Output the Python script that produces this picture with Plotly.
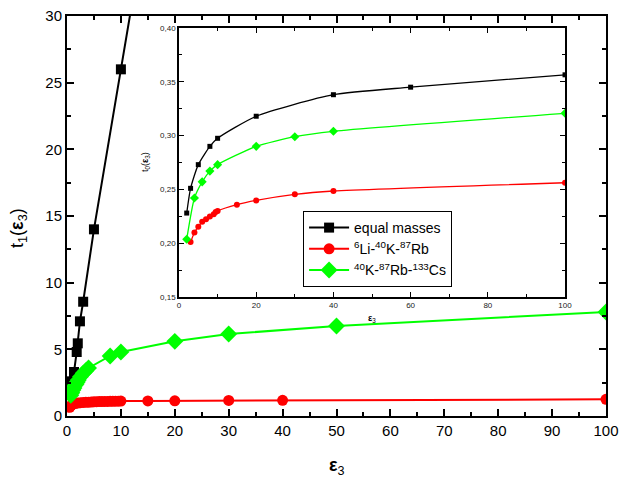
import plotly.graph_objects as go

# ---- main panel data: t1(eps3) ----
eq_x = [0.7, 1.3, 1.8, 2.0, 2.4, 3.0, 5, 10, 20]
eq_y = [2.6, 3.3, 4.8, 5.45, 7.1, 8.57, 14.0, 26.0, 50.0]

li_x = [0.5, 0.75, 1, 1.5, 2, 2.5, 3, 3.5, 4, 4.5, 5, 5.5, 6, 6.5, 7, 7.5, 8, 8.5, 9, 9.5, 10, 15, 20, 30, 40, 100]
li_y = [0.65, 0.78, 0.87, 0.93, 0.97, 1.0, 1.02, 1.03, 1.04, 1.05, 1.06, 1.07, 1.08, 1.08, 1.09, 1.09,
        1.10, 1.10, 1.11, 1.11, 1.12, 1.13, 1.14, 1.17, 1.18, 1.25]

k_x = [0.7, 0.9, 1.1, 1.3, 1.5, 1.7, 1.9, 2.1, 2.5, 3, 3.5, 4, 8, 10, 20, 30, 50, 100]
k_y = [1.55, 1.75, 1.95, 2.1, 2.3, 2.4, 2.55, 2.7, 2.95, 3.2, 3.4, 3.6, 4.5, 4.8, 5.6, 6.15, 6.75, 7.8]

# ---- inset data: t0(eps3) ----
eq0_x = [2, 3, 5, 8, 10, 20, 40, 60, 100]
eq0_y = [0.228, 0.251, 0.273, 0.290, 0.2975, 0.318, 0.338, 0.345, 0.3565]

li0_x = [3, 4, 5, 6, 7, 8, 9, 9.5, 10, 15, 20, 30, 40, 100]
li0_y = [0.201, 0.210, 0.2154, 0.220, 0.2222, 0.2247, 0.2269, 0.229, 0.230, 0.2358, 0.2398, 0.2454, 0.2485, 0.2562]

k0_x = [2, 4, 6, 8, 10, 20, 30, 40, 100]
k0_y = [0.2037, 0.242, 0.257, 0.267, 0.273, 0.290, 0.299, 0.304, 0.3207]

names = ["equal masses",
         "<sup>6</sup>Li-<sup>40</sup>K-<sup>87</sup>Rb",
         "<sup>40</sup>K-<sup>87</sup>Rb-<sup>133</sup>Cs"]
colors = ["#000000", "#ff0000", "#00ff00"]

FONT = "Liberation Sans, Arial, sans-serif"

fig = go.Figure()

# main traces (also used for legend entries)
fig.add_trace(go.Scatter(x=eq_x, y=eq_y, mode="lines+markers", name=names[0],
                         line=dict(color=colors[0], width=2),
                         marker=dict(symbol="square", size=10, color=colors[0]),
                         xaxis="x", yaxis="y"))
fig.add_trace(go.Scatter(x=li_x, y=li_y, mode="lines+markers", name=names[1],
                         line=dict(color=colors[1], width=2),
                         marker=dict(symbol="circle", size=11, color=colors[1]),
                         xaxis="x", yaxis="y"))
fig.add_trace(go.Scatter(x=k_x, y=k_y, mode="lines+markers", name=names[2],
                         line=dict(color=colors[2], width=2),
                         marker=dict(symbol="diamond", size=13, color=colors[2]),
                         xaxis="x", yaxis="y"))

# inset traces
fig.add_trace(go.Scatter(x=eq0_x, y=eq0_y, mode="lines+markers", showlegend=False,
                         line=dict(color=colors[0], width=1.3, shape="spline", smoothing=0.6),
                         marker=dict(symbol="square", size=5, color=colors[0]),
                         xaxis="x2", yaxis="y2"))
fig.add_trace(go.Scatter(x=li0_x, y=li0_y, mode="lines+markers", showlegend=False,
                         line=dict(color=colors[1], width=1.3, shape="spline", smoothing=0.6),
                         marker=dict(symbol="circle", size=6, color=colors[1]),
                         xaxis="x2", yaxis="y2"))
fig.add_trace(go.Scatter(x=k0_x, y=k0_y, mode="lines+markers", showlegend=False,
                         line=dict(color=colors[2], width=1.3, shape="spline", smoothing=0.6),
                         marker=dict(symbol="diamond", size=7, color=colors[2]),
                         xaxis="x2", yaxis="y2"))

main_axis = dict(showline=True, linewidth=2, linecolor="black", mirror="ticks",
                 ticks="inside", ticklen=7, tickwidth=1.5, tickcolor="black",
                 showgrid=False, zeroline=False, automargin=False, ticklabeloverflow="allow",
                 tickfont=dict(family=FONT, size=15, color="black"))

inset_axis = dict(showline=True, linewidth=1.5, linecolor="black", mirror="ticks",
                  ticks="inside", ticklen=5, tickwidth=1, tickcolor="black",
                  showgrid=False, zeroline=False, automargin=False, ticklabeloverflow="allow",
                  tickfont=dict(family=FONT, size=8, color="#222"))

fig.update_layout(
    width=621, height=477,
    margin=dict(l=67, r=15, t=16, b=61, autoexpand=False),
    paper_bgcolor="white", plot_bgcolor="white",
    separators=",.",
    font=dict(family=FONT, color="black"),
    xaxis=dict(**main_axis, range=[0, 100], dtick=10, tick0=0,
               minor=dict(dtick=5, ticks="inside", ticklen=4, tickwidth=1.5, tickcolor="black"),
               domain=[0, 1], anchor="y"),
    yaxis=dict(**main_axis, range=[0, 30], dtick=5, tick0=0,
               minor=dict(dtick=2.5, ticks="inside", ticklen=4, tickwidth=1.5, tickcolor="black"),
               domain=[0, 1], anchor="x"),
    xaxis2=dict(**inset_axis, range=[0, 100], dtick=20, tick0=0,
                minor=dict(dtick=10, ticks="inside", ticklen=3, tickwidth=1, tickcolor="black"),
                domain=[0.2078, 0.924], anchor="y2"),
    yaxis2=dict(**inset_axis, range=[0.15, 0.40], dtick=0.05, tick0=0.15, tickformat=".2f",
                minor=dict(dtick=0.025, ticks="inside", ticklen=3, tickwidth=1, tickcolor="black"),
                domain=[0.2975, 0.97], anchor="x2"),
    legend=dict(x=0.438, y=0.5125, xanchor="left", yanchor="top",
                bgcolor="white", bordercolor="black", borderwidth=1,
                font=dict(family=FONT, size=14, color="black"),
                tracegroupgap=0, itemwidth=40),
    annotations=[
        dict(text="t<sub>1</sub>(<b>ε</b><sub>3</sub>)", xref="paper", yref="paper",
             x=-0.091, y=0.47, textangle=-90, showarrow=False,
             xanchor="center", yanchor="middle", font=dict(family=FONT, size=18)),
        dict(text="<b>ε</b><sub>3</sub>", xref="paper", yref="paper",
             x=0.5, y=-0.125, showarrow=False,
             xanchor="center", yanchor="middle", font=dict(family=FONT, size=18)),
        dict(text="t<sub>0</sub>(<b>ε</b><sub>3</sub>)", xref="paper", yref="paper",
             x=0.1447, y=0.635, textangle=-90, showarrow=False,
             xanchor="center", yanchor="middle", font=dict(family=FONT, size=9)),
        dict(text="<b>ε</b><sub>3</sub>", xref="paper", yref="paper",
             x=0.566, y=0.245, showarrow=False,
             xanchor="center", yanchor="middle", font=dict(family=FONT, size=9)),
    ],
)

# remove the page's default 8px body margin and scrollbars so the figure fills the window exactly
fig.write_html("out.html",
               config={"displayModeBar": False},
               post_script="document.body.style.margin='0px';"
                           "document.documentElement.style.overflow='hidden';"
                           "document.body.style.overflow='hidden';")
